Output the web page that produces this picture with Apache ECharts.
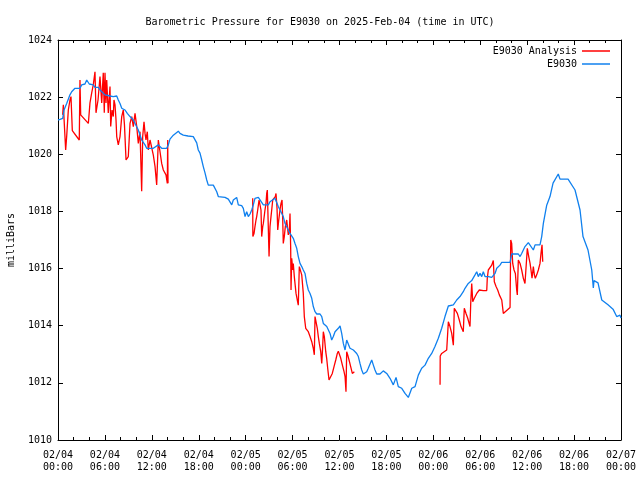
<!DOCTYPE html>
<html>
<head>
<meta charset="utf-8">
<script src="https://cdn.jsdelivr.net/npm/echarts@6/dist/echarts.min.js"></script>
<style>html,body{margin:0;padding:0;background:#fff}#c{width:640px;height:480px}</style>
</head>
<body>
<div id="c"></div>
<script>
// Hours since 2025-02-04 00:00 UTC, pressure in milliBars
var xTickLabels = ["02/04\n00:00","02/04\n06:00","02/04\n12:00","02/04\n18:00","02/05\n00:00","02/05\n06:00","02/05\n12:00","02/05\n18:00","02/06\n00:00","02/06\n06:00","02/06\n12:00","02/06\n18:00","02/07\n00:00"];
var yTicks = [1010,1012,1014,1016,1018,1020,1022,1024];

var e9030 = [
[0,1021.20],[0.26,1021.22],[0.60,1021.26],[0.77,1021.55],[1.11,1021.78],[1.53,1022.08],[1.75,1022.19],[2.17,1022.31],[2.81,1022.31],[3.03,1022.43],[3.45,1022.46],[3.67,1022.60],[3.88,1022.62],[4.00,1022.46],[4.51,1022.43],[4.73,1022.34],[5.15,1022.34],[5.37,1022.25],[5.59,1022.19],[6.01,1022.08],[6.23,1022.04],[6.65,1022.04],[7.07,1022.02],[7.51,1022.04],[7.71,1021.90],[7.93,1021.78],[8.15,1021.61],[8.57,1021.55],[8.86,1021.43],[9.21,1021.32],[9.43,1021.26],[9.63,1021.20],[9.85,1021.08],[10.27,1020.85],[10.70,1020.50],[11.13,1020.33],[11.34,1020.21],[12.19,1020.21],[12.83,1020.33],[13.26,1020.21],[13.90,1020.21],[14.11,1020.33],[14.32,1020.53],[14.75,1020.67],[15.39,1020.81],[15.60,1020.73],[16.02,1020.67],[16.63,1020.64],[17.30,1020.62],[17.74,1020.40],[17.94,1020.15],
[18.16,1020.04],[18.38,1019.80],[18.58,1019.57],[18.80,1019.35],[19.02,1019.10],[19.22,1018.92],[19.86,1018.92],[20.08,1018.87],[20.30,1018.69],[20.50,1018.52],[21.36,1018.49],[21.58,1018.50],[21.78,1018.43],[22.00,1018.40],[22.22,1018.23],[22.42,1018.40],[22.64,1018.46],[22.85,1018.49],[23.06,1018.23],[23.49,1018.20],[23.70,1018.11],[23.92,1017.82],[24.13,1017.99],[24.34,1017.82],[24.56,1017.91],[24.77,1018.05],[24.98,1018.23],[25.19,1018.46],[25.62,1018.49],[25.83,1018.42],[26.26,1018.23],[26.90,1018.23],[27.11,1018.34],[27.33,1018.28],[27.75,1018.46],[27.97,1018.40],[28.17,1018.17],[28.39,1018.11],[28.81,1017.82],[29.03,1017.58],[29.25,1017.52],[29.45,1017.35],[29.67,1017.23],[29.89,1017.18],[30.09,1017.06],[30.31,1016.88],[30.53,1016.71],[30.73,1016.42],[30.95,1016.18],[31.17,1016.07],[31.37,1015.95],[31.59,1015.83],[31.81,1015.48],[32.01,1015.25],[32.23,1015.13],[32.45,1014.96],[32.65,1014.67],[32.87,1014.49],[33.09,1014.41],[33.51,1014.41],[33.73,1014.32],[33.93,1014.08],[34.37,1013.97],[34.79,1013.73],[35.00,1013.50],[35.21,1013.62],[35.43,1013.79],[35.85,1013.91],[36.07,1013.99],[36.28,1013.73],[36.49,1013.38],[36.71,1013.15],[36.92,1013.50],[37.13,1013.44],[37.34,1013.21],[37.77,1013.15],[38.20,1013.03],[38.41,1012.92],[38.62,1012.68],[38.84,1012.45],[39.05,1012.31],[39.26,1012.31],[39.48,1012.39],[39.68,1012.51],[40.12,1012.80],[40.32,1012.63],[40.54,1012.45],[40.76,1012.31],[41.18,1012.31],[41.60,1012.42],[42.04,1012.33],[42.46,1012.16],[42.88,1011.93],[43.23,1012.19],[43.52,1011.87],[43.96,1011.81],[44.38,1011.63],[44.80,1011.49],[45.02,1011.52],[45.24,1011.81],[45.66,1011.87],[46.08,1012.27],[46.51,1012.51],[46.94,1012.62],[47.36,1012.86],[47.79,1013.03],[48.21,1013.27],[48.64,1013.56],[49.07,1013.91],[49.49,1014.32],[49.92,1014.69],[50.56,1014.73],[50.99,1014.90],[51.41,1015.02],[51.83,1015.19],[52.05,1015.31],[52.47,1015.48],[52.91,1015.58],[53.33,1015.78],[53.55,1015.89],[53.75,1015.72],[53.97,1015.83],[54.19,1015.72],[54.39,1015.89],[54.61,1015.72],[55.03,1015.72],[55.25,1015.78],[55.47,1015.69],[55.89,1015.83],[56.11,1016.01],[56.53,1016.12],[56.75,1016.22],[57.81,1016.22],[58.02,1016.51],[58.87,1016.51],[59.09,1016.42],[59.30,1016.53],[59.72,1016.77],[60.15,1016.91],[60.37,1016.88],[60.79,1016.65],[61.01,1016.83],[61.64,1016.83],[61.86,1017.12],[62.07,1017.58],[62.50,1018.22],[62.92,1018.52],[63.31,1018.99],[63.98,1019.31],[64.20,1019.13],[65.23,1019.13],[66.12,1018.75],[66.76,1018.05],[67.14,1017.12],[67.78,1016.65],[68.26,1015.95],[68.46,1015.32],[68.55,1015.58],[69.06,1015.50],[69.54,1014.90],[70.34,1014.73],[70.98,1014.58],[71.45,1014.32],[71.87,1014.37],[72.0,1014.27]
];

var analysisPart1 = [
[0.60,1021.38],[0.68,1021.73],[0.98,1020.15],[1.11,1020.62],[1.32,1021.55],[1.53,1021.90],[1.66,1022.02],[1.83,1020.83],[2.72,1020.50],[2.81,1022.60],[2.90,1021.38],[3.88,1021.08],[4.09,1021.80],[4.31,1022.15],[4.51,1022.43],[4.73,1022.89],[4.86,1021.45],[5.12,1021.90],[5.37,1022.72],[5.59,1021.80],[5.79,1022.85],[5.92,1021.45],[6.01,1022.85],[6.14,1021.80],[6.23,1022.60],[6.43,1021.45],[6.65,1022.37],[6.74,1020.97],[6.91,1021.55],[7.07,1021.32],[7.16,1021.90],[7.29,1021.73],[7.42,1021.20],[7.51,1020.62],[7.71,1020.33],[7.93,1020.62],[8.15,1021.32],[8.35,1021.55],[8.50,1021.03],[8.70,1019.80],[8.79,1019.80],[8.99,1019.92],[9.21,1021.08],[9.43,1021.32],[9.63,1020.97],[9.85,1021.43],[10.07,1020.97],[10.27,1020.38],[10.49,1020.79],[10.70,1018.71],[10.83,1020.62],[11.00,1021.14],[11.13,1020.73],[11.25,1020.50],[11.42,1020.79],[11.55,1020.15],[11.77,1020.50],[11.98,1020.44],[12.19,1019.97],[12.41,1019.57],[12.62,1018.93],[12.83,1020.50],[13.04,1020.44],[13.26,1019.68],[13.47,1019.45],[13.81,1019.28],[13.98,1018.98],[14.03,1020.50],[14.07,1018.99]
];
var analysisPart2 = [
[24.90,1018.46],[24.92,1017.12],[25.07,1017.23],[25.19,1017.47],[25.32,1017.70],[25.41,1017.82],[25.54,1018.05],[25.71,1018.40],[25.83,1018.46],[25.96,1018.05],[26.05,1017.12],[26.18,1017.47],[26.26,1017.58],[26.47,1018.05],[26.60,1018.28],[26.69,1018.63],[26.77,1018.75],[26.90,1018.81],[26.99,1016.42],[27.11,1017.47],[27.24,1017.82],[27.33,1018.05],[27.46,1018.40],[27.62,1018.40],[27.79,1018.52],[27.88,1018.63],[28.01,1018.11],[28.10,1017.35],[28.23,1017.70],[28.39,1018.05],[28.52,1018.28],[28.65,1018.40],[28.74,1017.70],[28.81,1016.88],[28.94,1017.12],[29.07,1017.47],[29.25,1017.70],[29.45,1017.18],[29.58,1017.29],[29.67,1017.93],[29.76,1016.65],[29.80,1015.25],[29.89,1016.36],[30.02,1015.95],[30.09,1016.18],[30.22,1015.72],[30.44,1015.13],[30.60,1014.90],[30.73,1014.72],[30.86,1016.07],[31.04,1016.13],[31.17,1015.78],[31.37,1015.13],[31.50,1014.32],[31.68,1013.91],[31.81,1013.85],[32.01,1013.79],[32.23,1013.62],[32.45,1013.44],[32.65,1013.21],[32.78,1012.98],[32.87,1014.32],[33.00,1014.38],[33.16,1013.91],[33.29,1013.62],[33.42,1013.38],[33.60,1013.09],[33.73,1012.68],[33.85,1013.27],[33.93,1013.79],[34.06,1013.62],[34.24,1013.09],[34.36,1012.86],[34.49,1012.51],[34.66,1012.10],[34.79,1012.04],[34.91,1012.10],[35.08,1012.33],[35.30,1012.57],[35.52,1012.80],[35.72,1013.03],[35.85,1013.11],[35.98,1013.09],[36.16,1012.86],[36.36,1012.63],[36.58,1012.39],[36.71,1012.22],[36.83,1011.69],[36.92,1013.09],[37.05,1012.98],[37.22,1012.80],[37.43,1012.57],[37.64,1012.33],[37.77,1012.28],[37.90,1012.39]
];
var analysisPart3 = [
[48.86,1011.93],[48.88,1012.94],[49.07,1013.03],[49.71,1013.15],[49.92,1014.14],[50.13,1013.97],[50.35,1013.73],[50.56,1013.32],[50.68,1014.61],[50.90,1014.64],[51.07,1014.43],[51.32,1014.20],[51.54,1013.97],[51.83,1013.79],[51.96,1014.61],[52.18,1014.43],[52.40,1014.26],[52.69,1013.97],[52.78,1014.78],[52.91,1015.48],[53.04,1014.84],[53.24,1014.96],[53.55,1015.13],[53.88,1015.25],[54.39,1015.23],[54.83,1015.23],[54.90,1015.66],[55.03,1015.95],[55.25,1016.01],[55.47,1016.12],[55.67,1016.28],[55.80,1015.54],[56.02,1015.37],[56.23,1015.25],[56.44,1015.08],[56.75,1014.90],[56.95,1014.43],[57.17,1014.38],[57.81,1014.64],[57.90,1017.00],[58.02,1016.88],[58.15,1016.18],[58.32,1015.95],[58.49,1015.83],[58.66,1015.25],[58.74,1015.08],[58.87,1016.30],[59.09,1016.18],[59.30,1015.95],[59.51,1015.66],[59.72,1015.48],[59.94,1015.48],[60.02,1016.71],[60.20,1016.42],[60.37,1016.18],[60.49,1015.95],[60.62,1015.66],[60.79,1016.07],[60.92,1015.78],[61.04,1015.66],[61.22,1015.78],[61.43,1015.95],[61.64,1016.18],[61.77,1016.53],[61.90,1016.83],[61.99,1016.24]
];

var analysis = analysisPart1.concat([[19,'-']], analysisPart2, [[43,'-']], analysisPart3);

var FONT = 'DejaVu Sans Mono';
var chart = echarts.init(document.getElementById('c'), null, {renderer:'canvas'});

function xAxisCfg(pos, showLabel) {
  return {
    type: 'value', position: pos, min: 0, max: 72, interval: 6,
    axisLine: {show: true, onZero: false, lineStyle: {color: '#000', width: 1}},
    axisTick: {show: true, inside: true, length: 5, lineStyle: {color: '#000'}},
    minorTick: {show: true, splitNumber: 3, length: 3, lineStyle: {color: '#000'}},
    splitLine: {show: false},
    axisLabel: {show: showLabel, margin: 9, color: '#000', fontFamily: FONT, fontSize: 10, lineHeight: 12,
      formatter: function (v) { return xTickLabels[Math.round(v / 6)]; }}
  };
}
function yAxisCfg(pos, showLabel) {
  return {
    type: 'value', position: pos, min: yTicks[0], max: yTicks[yTicks.length - 1], interval: 2,
    name: showLabel ? 'milliBars' : '', nameLocation: 'middle', nameGap: 42,
    nameTextStyle: {color: '#000', fontFamily: FONT, fontSize: 10},
    axisLine: {show: true, onZero: false, lineStyle: {color: '#000', width: 1}},
    axisTick: {show: true, inside: true, length: 5, lineStyle: {color: '#000'}},
    splitLine: {show: false},
    axisLabel: {show: showLabel, margin: 6, color: '#000', fontFamily: FONT, fontSize: 10,
      formatter: function (v) { return String(v); }}
  };
}

chart.setOption({
  animation: false,
  backgroundColor: '#fff',
  title: {text: 'Barometric Pressure for E9030 on 2025-Feb-04 (time in UTC)', left: 'center', top: 12,
    textStyle: {color: '#000', fontFamily: FONT, fontSize: 10, fontWeight: 'normal'}},
  grid: {left: 58, right: 19, top: 40, bottom: 40, containLabel: false, outerBoundsMode: 'none'},
  legend: {
    orient: 'vertical', right: 25, top: 41, align: 'right', itemGap: 3,
    itemWidth: 28, itemHeight: 1.5, icon: 'rect',
    textStyle: {color: '#000', fontFamily: FONT, fontSize: 10},
    data: ['E9030 Analysis', 'E9030']
  },
  xAxis: [xAxisCfg('bottom', true), xAxisCfg('top', false)],
  yAxis: [yAxisCfg('left', true), yAxisCfg('right', false)],
  series: [
    {name: 'E9030 Analysis', type: 'line', data: analysis, showSymbol: false, symbol: 'none',
      connectNulls: false, lineStyle: {color: '#ff0000', width: 1.3}, itemStyle: {color: '#ff0000'}},
    {name: 'E9030', type: 'line', data: e9030, showSymbol: false, symbol: 'none',
      lineStyle: {color: '#1080ee', width: 1.3}, itemStyle: {color: '#1080ee'}}
  ]
});
</script>
</body>
</html>
